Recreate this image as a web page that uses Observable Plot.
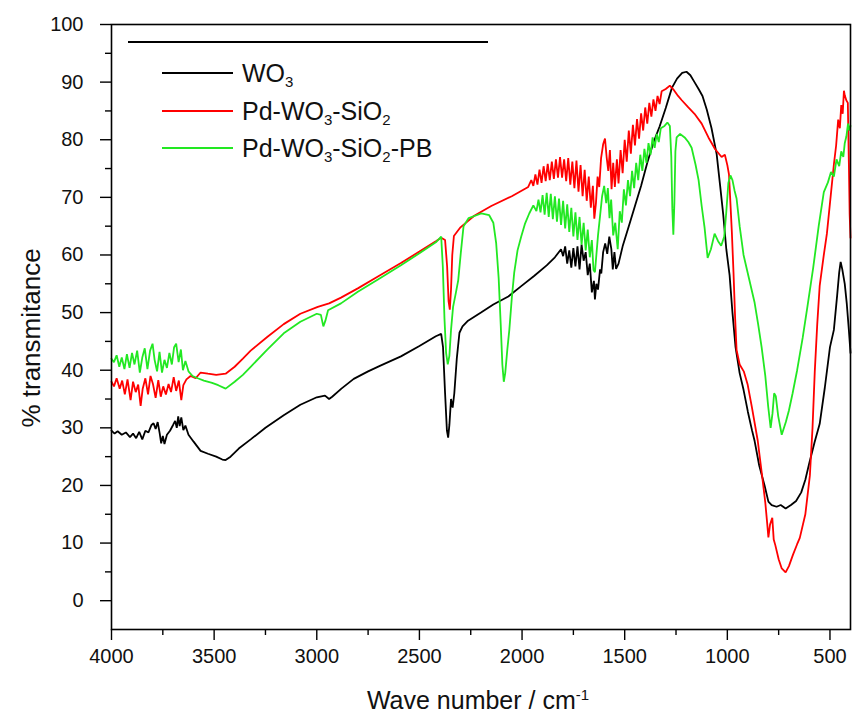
<!DOCTYPE html>
<html>
<head>
<meta charset="utf-8">
<script src="https://cdn.jsdelivr.net/npm/d3@7"></script>
<script src="https://cdn.jsdelivr.net/npm/@observablehq/plot@0.6"></script>
<style>
  html, body { margin: 0; padding: 0; background: #fff; }
  #wrap { position: relative; width: 852px; height: 719px; font-family: "Liberation Sans", Arial, Helvetica, sans-serif; color: #111; }
  #legend { position: absolute; left: 128px; top: 41px; width: 360px; border-top: 2px solid #000; }
  .item { position: absolute; left: 34px; height: 30px; display: flex; align-items: center; font-size: 25px; white-space: nowrap; }
  .item .sw { width: 71px; height: 2px; margin-right: 9px; }
  .item sub { font-size: 60%; vertical-align: -0.35em; line-height: 0; }
  #ylab { position: absolute; left: 31px; top: 338px; transform: translate(-50%, -50%) rotate(-90deg); font-size: 26px; white-space: nowrap; }
  #xlab { position: absolute; left: 478px; top: 700px; transform: translate(-50%, -50%); font-size: 25px; white-space: nowrap; }
  #xlab sup { font-size: 60%; vertical-align: 0.6em; line-height: 0; }
</style>
</head>
<body>
<div id="wrap"></div>
<script>
// ---- data ----
const seriesNames = ["WO3", "Pd-WO3-SiO2", "Pd-WO3-SiO2-PB"];
const seriesColors = ["#000000", "#ff0000", "#22e822"];

const xTicks = [4000, 3500, 3000, 2500, 2000, 1500, 1000, 500];
const xMinorTicks = [3750, 3250, 2750, 2250, 1750, 1250, 750];
const yTicks = [0, 10, 20, 30, 40, 50, 60, 70, 80, 90, 100];
const yMinorTicks = [5, 15, 25, 35, 45, 55, 65, 75, 85, 95];

// [wave number (cm-1), % transmittance]
const wo3 = [[4000,29.5],[3985,29],[3970,29.4],[3950,28.8],[3930,29.2],[3910,28.4],[3895,29],[3880,28.2],[3865,29.3],[3850,28],[3835,29.5],[3820,29.2],[3805,30.5],[3795,30.8],[3785,29.8],[3775,31],[3765,29],[3758,27.3],[3750,28.6],[3742,27.2],[3730,28.8],[3715,29.5],[3700,30.5],[3690,31.2],[3682,30],[3675,32],[3668,30.3],[3660,31.8],[3650,29.6],[3640,30.4],[3625,28.8],[3600,27.6],[3566,26],[3530,25.5],[3490,25],[3460,24.5],[3444,24.4],[3420,25],[3380,26.4],[3322,28],[3250,30],[3161,32.2],[3080,34],[3000,35.3],[2960,35.6],[2940,35],[2925,35.4],[2880,36.8],[2820,38.5],[2750,39.8],[2690,40.8],[2590,42.4],[2500,44.2],[2420,45.9],[2394,46.3],[2385,44],[2375,36],[2366,29.5],[2360,28.3],[2354,30.5],[2346,35],[2338,33.5],[2330,36],[2318,42],[2305,46.5],[2290,47.6],[2263,48.6],[2200,50],[2140,51.4],[2067,52.8],[2004,54.6],[1940,56.4],[1880,58.2],[1840,59.6],[1810,61],[1800,59.8],[1790,61.5],[1780,58.5],[1770,60.8],[1760,57.8],[1750,61.2],[1740,58],[1730,61.5],[1720,57.5],[1710,61.8],[1700,59],[1690,60.5],[1680,56.5],[1670,58.5],[1660,53.5],[1650,55.5],[1645,52.3],[1638,55],[1630,54],[1620,57.5],[1614,56.8],[1605,60.5],[1595,62],[1585,60.2],[1575,63.2],[1565,61],[1558,57.5],[1550,60.5],[1542,57.6],[1530,58.5],[1510,61.5],[1480,65],[1450,68.5],[1420,72],[1390,76],[1360,79.5],[1330,82.3],[1300,85.5],[1270,89],[1245,90.6],[1220,91.6],[1199,91.8],[1180,91.2],[1160,90],[1140,88.8],[1121,87.6],[1100,85.2],[1077,82],[1052,77.5],[1035,72],[1020,67],[1005,61],[989,56.5],[975,50],[960,44],[940,39.5],[921,36.6],[900,32.8],[880,29.6],[867,27.7],[845,23.5],[818,19.9],[800,17.2],[784,16.6],[760,16.3],[740,16.6],[716,16],[690,16.6],[665,17.3],[640,18.8],[620,21],[600,24],[575,27.5],[550,30.7],[525,37],[500,44],[481,47],[465,53],[455,57],[448,58.8],[440,57.5],[428,55],[418,51.5],[408,47],[400,43]];

const pdWo3Sio2 = [[4000,38],[3988,37.2],[3975,38.6],[3960,36.8],[3948,38.2],[3935,35.8],[3922,38.4],[3907,34.8],[3895,38],[3882,36.2],[3870,37.5],[3858,33.8],[3848,36.8],[3835,38.6],[3822,35.8],[3810,39],[3798,37.6],[3785,35.2],[3772,38.3],[3760,35.4],[3748,37.2],[3735,35.8],[3722,37.6],[3710,36.2],[3697,38.8],[3685,36.4],[3672,38.2],[3660,34.8],[3650,37.4],[3635,38.4],[3615,39],[3590,38.6],[3566,39.6],[3530,39.4],[3490,39.2],[3444,39.4],[3400,40.6],[3360,42],[3322,43.4],[3240,45.8],[3161,48],[3080,49.8],[2995,51],[2940,51.6],[2882,52.6],[2800,54.2],[2700,56.3],[2590,58.6],[2500,60.6],[2420,62.4],[2394,63],[2375,62.6],[2365,58],[2358,52],[2352,50.5],[2346,54],[2340,60],[2332,63.3],[2300,64.8],[2233,66.8],[2150,68.5],[2050,70.2],[1970,71.8],[1955,73],[1945,72],[1935,74],[1925,72.2],[1915,74.8],[1905,72.5],[1895,75.4],[1885,72.8],[1875,75.8],[1865,73],[1855,76.2],[1845,73.2],[1835,76.6],[1825,73.4],[1815,77],[1805,73.4],[1795,76.6],[1785,72.8],[1775,76.8],[1765,72.2],[1755,76.2],[1745,71.6],[1735,76.4],[1725,71],[1715,75.6],[1705,70.2],[1695,74.8],[1685,69.4],[1675,73.6],[1665,68.2],[1655,72],[1648,66.3],[1640,69],[1632,73.6],[1624,71.8],[1615,76.8],[1605,79.2],[1596,80.2],[1588,77],[1580,74.6],[1572,78.2],[1564,71.4],[1556,76],[1548,71.8],[1538,76.6],[1530,72.4],[1520,78.2],[1510,74.2],[1500,80],[1490,76.2],[1480,81.6],[1470,77.6],[1460,82.6],[1450,79],[1440,83.6],[1430,80.2],[1420,84.6],[1410,81.6],[1400,85.6],[1390,82.8],[1380,86.4],[1370,84],[1360,87],[1350,85],[1340,87.6],[1330,86.2],[1320,88.4],[1300,88.8],[1280,89.4],[1260,88.6],[1240,87.6],[1223,86.9],[1190,85.6],[1160,84.5],[1125,82.8],[1092,80.4],[1060,78.4],[1028,77],[1012,77.4],[1000,75.6],[992,74],[985,69],[978,64],[970,57],[962,49],[955,43.5],[940,41],[920,39.8],[901,37.5],[880,33.5],[852,27.8],[830,21.5],[815,17],[806,13.5],[800,11],[792,13.2],[781,14.4],[774,10.6],[766,9.6],[750,7.2],[735,5.6],[716,4.9],[700,6],[680,8],[660,9.8],[647,10.9],[620,15],[598,21.7],[585,30],[574,39.8],[562,48],[550,54.7],[530,60],[515,63.7],[500,69],[481,75.7],[470,79],[460,83.5],[452,82],[445,86],[438,84.5],[432,88.5],[428,87.7],[420,86.8],[413,86.4],[408,76],[404,67],[400,63]];

const pdWo3Sio2Pb = [[4000,42],[3988,41.4],[3975,42.6],[3962,40.6],[3950,42.2],[3937,40.2],[3925,42.8],[3912,40.4],[3900,43],[3888,41],[3875,43.4],[3862,39.6],[3850,42.2],[3838,43.8],[3825,40.2],[3812,43.4],[3800,44.6],[3790,41.8],[3778,39.8],[3766,43.2],[3754,39.6],[3742,41.8],[3730,40.4],[3718,43],[3706,41],[3695,44],[3685,44.6],[3673,41.4],[3662,43.6],[3652,40],[3640,41.6],[3625,39.8],[3605,39],[3580,38.6],[3550,38.2],[3510,37.8],[3480,37.4],[3444,36.8],[3400,38],[3360,39.2],[3322,40.6],[3240,43.6],[3161,46.4],[3080,48.4],[3000,49.8],[2980,49.6],[2968,47.6],[2958,48.6],[2945,50.4],[2882,51.6],[2800,53.6],[2700,55.8],[2590,58.2],[2500,60.3],[2420,62.2],[2394,63.2],[2386,58],[2378,49],[2370,43],[2362,41],[2354,42.5],[2346,47],[2336,51],[2322,53.5],[2311,55.6],[2298,60.5],[2285,65],[2260,66.4],[2199,67.2],[2160,66.9],[2140,65.6],[2126,62],[2114,56],[2104,48],[2096,41],[2089,38],[2082,39.5],[2072,43.5],[2062,47],[2050,52.5],[2038,57],[2022,60.8],[2004,63.2],[1985,65.5],[1965,67.2],[1945,68.6],[1930,67.6],[1920,69.6],[1910,67.4],[1900,70.4],[1890,67],[1880,70.8],[1870,66.6],[1860,70.6],[1850,66.2],[1840,70.2],[1830,65.8],[1820,69.8],[1810,65.2],[1800,69.4],[1790,64.6],[1780,68.8],[1770,64],[1760,68.2],[1750,63.2],[1740,67.4],[1730,62.6],[1720,66.6],[1710,61.8],[1700,65.6],[1690,60.8],[1680,64.4],[1670,59.6],[1660,62.6],[1652,57.4],[1645,57],[1638,60],[1630,63.4],[1620,66.8],[1610,70.2],[1600,72],[1590,69],[1582,71.6],[1574,66.4],[1566,69.6],[1556,63.4],[1546,65.6],[1534,61],[1524,67.6],[1514,65.6],[1504,71.4],[1494,68.6],[1484,73],[1474,70.2],[1464,74.6],[1454,71.6],[1444,76],[1434,73],[1424,77.4],[1414,74.6],[1404,78.4],[1394,76],[1384,79.4],[1374,77.4],[1364,80.4],[1354,78.6],[1344,81],[1334,79.6],[1324,82],[1306,82.4],[1292,83],[1280,82.4],[1273,77],[1268,68],[1263,63.5],[1258,69],[1253,78],[1247,80.4],[1230,81],[1208,80.4],[1190,79.6],[1174,78.6],[1155,75.7],[1140,73],[1125,68.5],[1111,64.8],[1096,59.5],[1080,61],[1062,63.7],[1045,62.4],[1030,61.6],[1015,63.2],[1005,67.5],[995,72.5],[985,73.8],[975,73],[965,71.2],[955,69.8],[940,65],[921,60],[895,56],[867,51.7],[850,48],[833,44],[815,39],[801,33.7],[789,30],[780,32.5],[772,36],[764,35.5],[752,32],[735,28.8],[715,31],[700,33],[682,36],[660,40],[633,45.6],[610,51],[582,57.7],[555,65],[530,70.9],[510,72.6],[495,74.4],[481,73.6],[468,76.6],[455,75.4],[445,78],[435,77],[428,79.4],[420,80.6],[412,82.8],[405,81.6],[400,82.4]];

// ---- build table ----
const seriesData = [wo3, pdWo3Sio2, pdWo3Sio2Pb];
const rows = [];
seriesData.forEach((arr, i) => arr.forEach(([w, t]) => rows.push({series: seriesNames[i], wave: w, t})));

const plain = d3.format("d");

const chart = Plot.plot({
  width: 852,
  height: 719,
  marginTop: 24,
  marginRight: 2,
  marginBottom: 90,
  marginLeft: 111,
  style: {fontFamily: '"Liberation Sans", Arial, Helvetica, sans-serif', color: "#111", background: "transparent"},
  x: {domain: [4000, 400]},
  y: {domain: [-5, 100]},
  color: {domain: seriesNames, range: seriesColors},
  marks: [
    Plot.line(rows, {x: "wave", y: "t", z: "series", stroke: "series", strokeWidth: 1.8, strokeLinejoin: "miter"}),
    Plot.frame({stroke: "#000", strokeWidth: 1.6}),
    Plot.axisX(xTicks, {tickSize: 11, tickPadding: 8, fontSize: 20, tickFormat: plain, label: null, stroke: "#000", strokeWidth: 1.4}),
    Plot.axisX(xMinorTicks, {tickSize: 6, tickFormat: () => "", label: null, stroke: "#000", strokeWidth: 1.4}),
    Plot.axisY(yTicks, {tickSize: 11, tickPadding: 17, fontSize: 20, tickFormat: plain, label: null, stroke: "#000", strokeWidth: 1.4}),
    Plot.axisY(yMinorTicks, {tickSize: 6, tickFormat: () => "", label: null, stroke: "#000", strokeWidth: 1.4})
  ]
});

const wrap = document.getElementById("wrap");
wrap.appendChild(chart);

const legend = document.createElement("div");
legend.id = "legend";
const labelsHtml = [
  "WO<sub>3</sub>",
  "Pd-WO<sub>3</sub>-SiO<sub>2</sub>",
  "Pd-WO<sub>3</sub>-SiO<sub>2</sub>-PB"
];
const itemTops = [15, 53, 90];
seriesNames.forEach((name, i) => {
  const it = document.createElement("div");
  it.className = "item";
  it.style.top = itemTops[i] + "px";
  it.innerHTML = `<span class="sw" style="background:${seriesColors[i]}"></span><span>${labelsHtml[i]}</span>`;
  legend.appendChild(it);
});
wrap.appendChild(legend);

const ylab = document.createElement("div");
ylab.id = "ylab";
ylab.textContent = "% transmitance";
wrap.appendChild(ylab);

const xlab = document.createElement("div");
xlab.id = "xlab";
xlab.innerHTML = "Wave number / cm<sup>-1</sup>";
wrap.appendChild(xlab);
</script>
</body>
</html>
